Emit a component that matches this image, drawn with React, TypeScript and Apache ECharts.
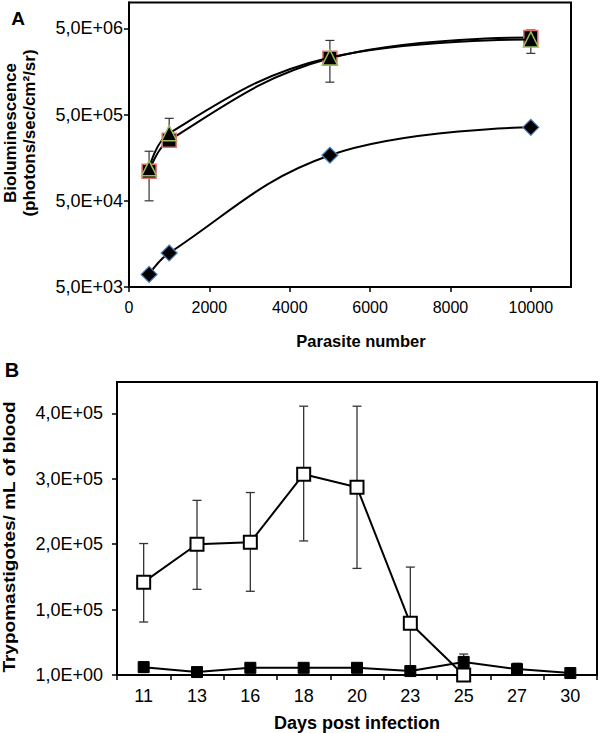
import React, { useEffect, useRef } from "react";
import * as echarts from "echarts";

// ---------- Panel A data ----------
const A_X = [500, 1000, 5000, 10000];
const A_DIAMOND = [7000, 12400, 169000, 356000];
const A_SQUARE = [110000, 252000, 2250000, 3930000];
const A_TRIANGLE = [119000, 304000, 2300000, 3730000];
const A_ERR_LOW = [50000, 220000, 1190000, 2570000];
const A_ERR_HIGH = [188000, 453000, 3630000, 4800000];
const A_Y_TICKS = [5000, 50000, 500000, 5000000];

// ---------- Panel B data ----------
const B_DAYS = ["11", "13", "16", "18", "20", "23", "25", "27", "30"];
const B_OPEN = [142000, 200000, 203000, 307000, 287000, 79000, 0, null, null];
const B_OPEN_LOW = [81000, 131000, 128000, 205000, 163000, 0, null, null, null];
const B_OPEN_HIGH = [201000, 267000, 279000, 411000, 411000, 165000, null, null, null];
const B_FILLED = [12000, 4500, 11000, 11000, 11000, 6000, 20000, 9000, 3000];
const B_FILLED_LOW = [4000, 1000, 4000, 4000, 4000, 3000, 8000, 1000, 1000];
const B_FILLED_HIGH = [20000, 8000, 18000, 17000, 18000, 9000, 32000, 18000, 5000];

const FONT = '"Liberation Sans", Arial, sans-serif';

function sciLabel(v: number): string {
  if (v === 0) return "1,0E+00";
  const e = Math.floor(Math.log10(v) + 1e-9);
  const m = v / Math.pow(10, e);
  const es = (e < 10 ? "0" : "") + e;
  return m.toFixed(1).replace(".", ",") + "E+" + es;
}

function errRender(capHalf: number, color: string, lw: number) {
  return (params: any, api: any) => {
    const x = api.value(0);
    const lo = api.value(1);
    const hi = api.value(2);
    const p1 = api.coord([x, lo]);
    const p2 = api.coord([x, hi]);
    const style = { stroke: color, lineWidth: lw };
    return {
      type: "group",
      children: [
        { type: "line", shape: { x1: p1[0], y1: p1[1], x2: p2[0], y2: p2[1] }, style },
        { type: "line", shape: { x1: p2[0] - capHalf, y1: p2[1], x2: p2[0] + capHalf, y2: p2[1] }, style },
        { type: "line", shape: { x1: p1[0] - capHalf, y1: p1[1], x2: p1[0] + capHalf, y2: p1[1] }, style },
      ],
    };
  };
}

export default function App() {
  const ref = useRef<HTMLDivElement>(null);
  useEffect(() => {
    if (!ref.current) return;
    const chart = echarts.init(ref.current, null, { renderer: "svg" });

    const aErrData = A_X.map((x, i) => [x, A_ERR_LOW[i], A_ERR_HIGH[i]]);
    const bOpenErr = B_DAYS.map((_, i) => [i, B_OPEN_LOW[i], B_OPEN_HIGH[i]]).filter((d) => d[1] !== null && d[2] !== null);
    const bFilledErr = B_DAYS.map((_, i) => [i, B_FILLED_LOW[i], B_FILLED_HIGH[i]]);

    const axisLineStyle = { color: "#000", width: 2 };
    const tickStyle = { color: "#000", width: 1.5 };

    const option: any = {
      animation: false,
      backgroundColor: "#fff",
      grid: [
        { left: 129, top: 2.5, right: 29, bottom: 446, show: true, borderColor: "#000", borderWidth: 2, backgroundColor: "transparent" },
        { left: 117, top: 382, right: 3, bottom: 58, show: true, borderColor: "#000", borderWidth: 2, backgroundColor: "transparent" },
      ],
      xAxis: [
        {
          gridIndex: 0,
          type: "value",
          min: 0,
          max: 11000,
          interval: 2000,
          axisLine: { show: true, lineStyle: axisLineStyle },
          axisTick: { show: true, length: 5, lineStyle: tickStyle },
          splitLine: { show: false },
          axisLabel: {
            showMaxLabel: false,
            margin: 12,
            fontSize: 16,
            fontFamily: FONT,
            color: "#000",
            formatter: (v: number) => String(v),
          },
        },
        {
          gridIndex: 1,
          type: "category",
          data: B_DAYS,
          boundaryGap: true,
          axisLine: { show: true, lineStyle: axisLineStyle },
          axisTick: { show: true, length: 5, lineStyle: tickStyle },
          splitLine: { show: false },
          axisLabel: { margin: 12, fontSize: 18, fontFamily: FONT, color: "#000", interval: 0 },
        },
      ],
      yAxis: [
        {
          gridIndex: 0,
          type: "log",
          logBase: 10,
          min: 5000,
          max: 10000000,
          axisLine: { show: true, lineStyle: axisLineStyle },
          axisTick: { show: true, length: 5, lineStyle: tickStyle, customValues: A_Y_TICKS },
          splitLine: { show: false },
          minorTick: { show: false },
          axisLabel: {
            customValues: A_Y_TICKS,
            margin: 6,
            fontSize: 18,
            fontFamily: FONT,
            color: "#000",
            formatter: (v: number) => sciLabel(v),
          },
        },
        {
          gridIndex: 1,
          type: "value",
          min: 0,
          max: 448000,
          interval: 100000,
          axisLine: { show: true, lineStyle: axisLineStyle },
          axisTick: { show: true, length: 5, lineStyle: tickStyle },
          splitLine: { show: false },
          axisLabel: {
            showMaxLabel: false,
            margin: 14,
            fontSize: 18,
            fontFamily: FONT,
            color: "#000",
            formatter: (v: number) => sciLabel(v),
          },
        },
      ],
      series: [
        // Panel A error bars
        {
          type: "custom",
          xAxisIndex: 0,
          yAxisIndex: 0,
          z: 1,
          renderItem: errRender(4.5, "#333", 1.2),
          encode: { x: 0, y: [1, 2] },
          data: aErrData,
        },
        {
          type: "line",
          xAxisIndex: 0,
          yAxisIndex: 0,
          z: 2,
          smooth: 0.4,
          data: A_X.map((x, i) => [x, A_DIAMOND[i]]),
          lineStyle: { color: "#000", width: 2 },
          symbol: "diamond",
          symbolSize: 16,
          itemStyle: { color: "#000", borderColor: "#4F81BD", borderWidth: 1.2 },
        },
        {
          type: "line",
          xAxisIndex: 0,
          yAxisIndex: 0,
          z: 3,
          smooth: 0.4,
          data: A_X.map((x, i) => [x, A_SQUARE[i]]),
          lineStyle: { color: "#000", width: 2 },
          symbol: "rect",
          symbolSize: 14,
          itemStyle: { color: "#000", borderColor: "#E07070", borderWidth: 1.5 },
        },
        {
          type: "line",
          xAxisIndex: 0,
          yAxisIndex: 0,
          z: 4,
          smooth: 0.4,
          data: A_X.map((x, i) => [x, A_TRIANGLE[i]]),
          lineStyle: { color: "#000", width: 2 },
          symbol: "triangle",
          symbolSize: 15,
          itemStyle: { color: "#000", borderColor: "#9BBB59", borderWidth: 1.5 },
        },
        // Panel B error bars
        {
          type: "custom",
          xAxisIndex: 1,
          yAxisIndex: 1,
          z: 1,
          renderItem: errRender(4.5, "#333", 1.3),
          encode: { x: 0, y: [1, 2] },
          data: bOpenErr,
        },
        {
          type: "custom",
          xAxisIndex: 1,
          yAxisIndex: 1,
          z: 1,
          renderItem: errRender(4.5, "#333", 1.3),
          encode: { x: 0, y: [1, 2] },
          data: bFilledErr,
        },
        {
          type: "line",
          xAxisIndex: 1,
          yAxisIndex: 1,
          z: 3,
          data: B_FILLED,
          lineStyle: { color: "#000", width: 2 },
          symbol: "rect",
          symbolSize: 11,
          itemStyle: { color: "#000", borderColor: "#000", borderWidth: 1 },
        },
        {
          type: "line",
          xAxisIndex: 1,
          yAxisIndex: 1,
          z: 4,
          data: B_OPEN,
          connectNulls: false,
          lineStyle: { color: "#000", width: 2 },
          symbol: "rect",
          symbolSize: 13,
          itemStyle: { color: "#fff", borderColor: "#000", borderWidth: 2 },
        },
      ],
      graphic: [
        {
          type: "text",
          x: 18,
          y: 18,
          style: { text: "A", fontSize: 19, fontWeight: "bold", fontFamily: FONT, fill: "#000", align: "center", verticalAlign: "middle" },
        },
        {
          type: "text",
          x: 12,
          y: 370,
          style: { text: "B", fontSize: 20, fontWeight: "bold", fontFamily: FONT, fill: "#000", align: "center", verticalAlign: "middle" },
        },
        {
          type: "text",
          x: 20,
          y: 133,
          rotation: Math.PI / 2,
          style: {
            text: "Bioluminescence\n(photons/sec/cm²/sr)",
            fontSize: 17,
            lineHeight: 19,
            fontWeight: "bold",
            fontFamily: FONT,
            fill: "#000",
            align: "center",
            verticalAlign: "middle",
          },
        },
        {
          type: "text",
          x: 361,
          y: 341,
          style: { text: "Parasite number", fontSize: 16.5, fontWeight: "bold", fontFamily: FONT, fill: "#000", align: "center", verticalAlign: "middle" },
        },
        {
          type: "text",
          x: 9,
          y: 537,
          rotation: Math.PI / 2,
          scaleX: 1.12,
          style: {
            text: "Trypomastigotes/ mL of blood",
            fontSize: 17,
            fontWeight: "bold",
            fontFamily: FONT,
            fill: "#000",
            align: "center",
            verticalAlign: "middle",
          },
        },
        {
          type: "text",
          x: 357,
          y: 723,
          style: { text: "Days post infection", fontSize: 18, fontWeight: "bold", fontFamily: FONT, fill: "#000", align: "center", verticalAlign: "middle" },
        },
      ],
    };

    chart.setOption(option);
    return () => chart.dispose();
  }, []);

  return (
    <div
      ref={ref}
      style={{ position: "fixed", left: 0, top: 0, width: 600, height: 733, background: "#fff" }}
    />
  );
}
